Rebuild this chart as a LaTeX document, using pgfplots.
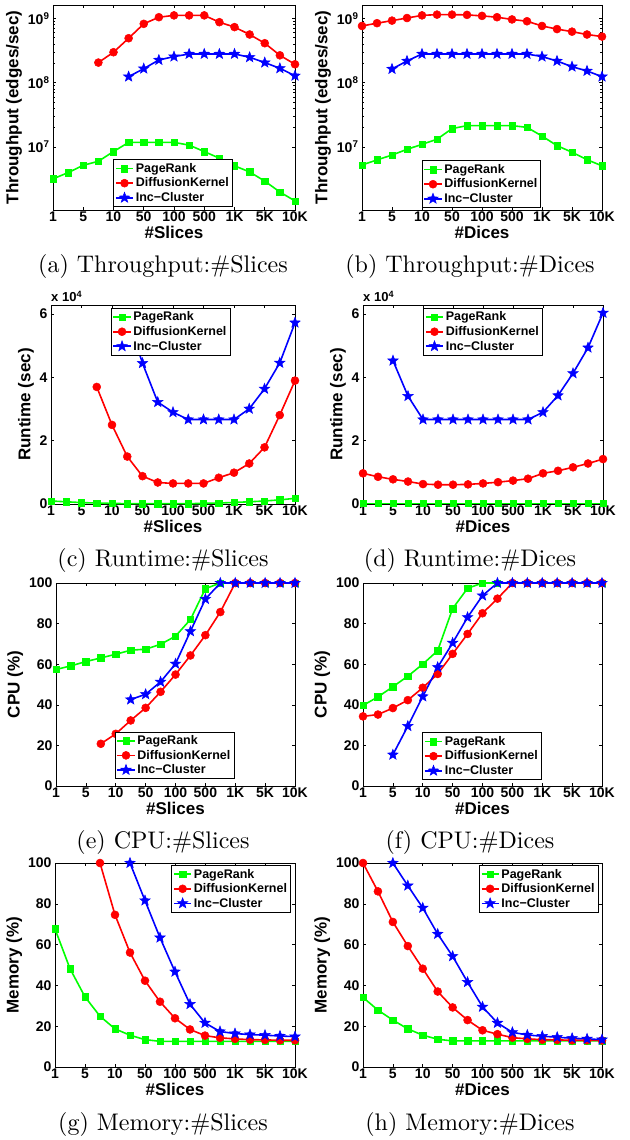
\documentclass[border=0pt]{standalone}
\usepackage{fontspec}
\usepackage{graphicx}
\usepackage{pgfplots}
\pgfplotsset{compat=1.18}
\newfontfamily\plotfont{Liberation Sans}

\definecolor{mgreen}{RGB}{0,255,0}
\definecolor{mred}{RGB}{255,0,0}
\definecolor{mblue}{RGB}{0,0,255}

% filled five-pointed star, like matlab's pentagram
\pgfdeclareplotmark{pent}{%
  \pgfpathmoveto{\pgfpointpolar{90}{\pgfplotmarksize}}%
  \pgfpathlineto{\pgfpointpolar{126}{0.42\pgfplotmarksize}}%
  \pgfpathlineto{\pgfpointpolar{162}{\pgfplotmarksize}}%
  \pgfpathlineto{\pgfpointpolar{198}{0.42\pgfplotmarksize}}%
  \pgfpathlineto{\pgfpointpolar{234}{\pgfplotmarksize}}%
  \pgfpathlineto{\pgfpointpolar{270}{0.42\pgfplotmarksize}}%
  \pgfpathlineto{\pgfpointpolar{306}{\pgfplotmarksize}}%
  \pgfpathlineto{\pgfpointpolar{342}{0.42\pgfplotmarksize}}%
  \pgfpathlineto{\pgfpointpolar{18}{\pgfplotmarksize}}%
  \pgfpathlineto{\pgfpointpolar{54}{0.42\pgfplotmarksize}}%
  \pgfpathclose
  \pgfusepathqfillstroke
}

\pgfplotsset{
  panel/.style={
    scale only axis,
    xmin=0, xmax=16,
    xtick={0,2,...,16},
    xticklabels={1,5,10,50,100,500,1K,5K,10K},
    tick align=inside,
    major tick length=3pt,
    minor tick length=1.8pt,
    axis line style={line width=0.8pt},
    every tick/.style={black, line width=0.6pt},
    ticklabel style={font=\plotfont\bfseries\fontsize{14}{16}\selectfont},
    xticklabel style={inner sep=2pt},
    /pgf/number format/assume math mode=true,
    label style={font=\plotfont\bfseries\fontsize{17}{19}\selectfont},
    xlabel style={yshift=1.5pt},
    ylabel style={yshift=-1pt},
    scaled y ticks=false,
    legend style={font=\plotfont\bfseries\fontsize{12.5}{14}\selectfont,
                  draw=black, line width=0.8pt, inner sep=1.5pt,
                  row sep=0pt},
    legend cell align=left,
    clip=false,
  },
  pr/.style={mgreen, line width=1.6pt, mark=square*, mark size=3.2pt,
             mark options={fill=mgreen, line width=0.5pt}},
  dk/.style={mred, line width=1.6pt, mark=*, mark size=4pt,
             mark options={fill=mred, line width=0.5pt}},
  ic/.style={mblue, line width=1.6pt, mark=pent, mark size=5.5pt,
             mark options={fill=mblue, line width=0.5pt}},
}

\newcommand{\capt}[1]{\scalebox{2.4}{\fontsize{10}{12}\selectfont #1}}
\newcommand{\tenfour}{\node[anchor=south west, inner sep=0pt, yshift=3pt,
  font=\plotfont\bfseries\fontsize{13}{15}\selectfont]
  at (rel axis cs:0,1) {x 10\textsuperscript{4}};}

\pgfplotstableread{
x   pr      dk      ic
0   3.2e6   nan     nan
1   4.0e6   nan     nan
2   5.2e6   nan     nan
3   6.0e6   2.05e8  nan
4   8.5e6   2.97e8  nan
5   1.18e7  4.9e8   1.24e8
6   1.18e7  8.2e8   1.65e8
7   1.18e7  1.04e9  2.25e8
8   1.18e7  1.11e9  2.54e8
9   1.07e7  1.11e9  2.79e8
10  8.5e6   1.11e9  2.79e8
11  6.7e6   8.7e8   2.79e8
12  5.1e6   7.3e8   2.79e8
13  4.1e6   5.6e8   2.48e8
14  2.95e6  4.1e8   2.05e8
15  2.0e6   2.66e8  1.67e8
16  1.45e6  1.93e8  1.28e8
}\thrslices

\pgfplotstableread{
x   pr      dk      ic
0   5.25e6  7.6e8   nan
1   6.3e6   8.4e8   nan
2   7.5e6   9.2e8   1.63e8
3   9.2e6   1.01e9  2.17e8
4   1.1e7   1.11e9  2.79e8
5   1.32e7  1.14e9  2.79e8
6   1.93e7  1.14e9  2.79e8
7   2.15e7  1.13e9  2.79e8
8   2.15e7  1.09e9  2.79e8
9   2.15e7  1.04e9  2.79e8
10  2.15e7  9.6e8   2.79e8
11  2.02e7  9.0e8   2.79e8
12  1.48e7  7.6e8   2.54e8
13  1.05e7  6.8e8   2.17e8
14  8.3e6   6.2e8   1.77e8
15  6.35e6  5.6e8   1.52e8
16  5.1e6   5.2e8   1.24e8
}\thrdices

\pgfplotstableread{
x   pr     dk     ic
0   950    nan    nan
1   700    nan    nan
2   450    nan    nan
3   300    37000  nan
4   200    25000  nan
5   100    15000  59000
6   100    8800   44500
7   100    6800   32200
8   100    6500   29000
9   100    6500   26700
10  200    6500   26700
11  300    8300   26700
12  500    9900   26700
13  700    12800  30100
14  950    17900  36400
15  1300   28100  44600
16  1800   39000  57300
}\runslices

\pgfplotstableread{
x   pr     dk     ic
0   150    9700   nan
1   150    8600   nan
2   150    7800   45300
3   150    7100   34100
4   150    6300   26700
5   150    6100   26700
6   150    6100   26700
7   150    6200   26700
8   150    6500   26700
9   150    6900   26700
10  150    7400   26700
11  150    8000   26700
12  150    9700   29000
13  150    10500  34300
14  150    11600  41300
15  150    12800  49400
16  150    14200  60400
}\rundices

\pgfplotstableread{
x   pr     dk     ic
0   57.4   nan    nan
1   59.2   nan    nan
2   61.3   nan    nan
3   63.1   20.8   nan
4   64.9   25.7   nan
5   66.9   32.3   42.6
6   67.4   38.5   45.2
7   69.8   46.4   51.3
8   73.8   54.9   60.2
9   82.0   64.3   76.2
10  97.2   74.3   92.1
11  100    85.7   100
12  100    100    100
13  100    100    100
14  100    100    100
15  100    100    100
16  100    100    100
}\cpuslices

\pgfplotstableread{
x   pr     dk     ic
0   39.7   34.3   nan
1   43.9   35.2   nan
2   48.9   38.4   15.4
3   54.1   42.3   29.5
4   60.0   48.4   44.1
5   66.7   55.2   58.5
6   87.4   65.1   70.5
7   97.4   74.9   83.1
8   100    85.1   93.8
9   100    92.3   100
10  100    100    100
11  100    100    100
12  100    100    100
13  100    100    100
14  100    100    100
15  100    100    100
16  100    100    100
}\cpudices

\pgfplotstableread{
x   pr     dk     ic
0   67.7   nan    nan
1   48.2   nan    nan
2   34.4   nan    nan
3   24.9   100    nan
4   18.7   74.6   nan
5   15.6   56.1   100
6   13.4   42.3   81.6
7   12.6   32.0   63.4
8   12.6   23.9   46.7
9   12.6   18.4   30.8
10  12.6   15.4   21.6
11  12.6   14.3   17.4
12  12.6   13.8   16.4
13  12.6   13.4   15.9
14  12.6   13.3   15.6
15  12.6   13.1   15.2
16  12.6   13.1   14.9
}\memslices

\pgfplotstableread{
x   pr     dk     ic
0   34.1   100    nan
1   27.9   86.1   nan
2   23.0   71.1   100
3   18.7   59.3   88.9
4   15.6   48.2   78.0
5   13.6   37.0   65.2
6   12.8   29.2   54.3
7   12.8   23.0   41.6
8   12.8   18.0   29.5
9   12.8   16.1   21.6
10  12.8   14.4   17.0
11  12.8   13.8   15.7
12  12.8   13.4   15.1
13  12.8   13.3   14.6
14  12.8   13.1   14.1
15  12.8   13.1   13.8
16  12.8   13.0   13.4
}\memdices

\begin{document}
\begin{tikzpicture}
\useasboundingbox (0pt,0pt) rectangle (629pt,-1140pt);

% ---------- row 1: throughput ----------
\begin{axis}[panel, at={(53pt,-210pt)}, anchor=south west,
    width=242pt, height=205pt,
    ymode=log, ymin=1.05e6, ymax=1.61e9,
    ytick={1e7,1e8,1e9},
    yticklabels={10\textsuperscript{7},10\textsuperscript{8},10\textsuperscript{9}},
    ylabel={Throughput (edges/sec)}, xlabel={\#Slices},
    legend style={at={(0.496,0.015)}, anchor=south}]
  \addplot[pr] table[x=x, y=pr] {\thrslices};
  \addplot[dk] table[x=x, y=dk] {\thrslices};
  \addplot[ic] table[x=x, y=ic] {\thrslices};
  \legend{PageRank, DiffusionKernel, Inc−Cluster}
\end{axis}

\begin{axis}[panel, at={(362pt,-210pt)}, anchor=south west,
    width=240pt, height=205pt,
    ymode=log, ymin=1.05e6, ymax=1.61e9,
    ytick={1e7,1e8,1e9},
    yticklabels={10\textsuperscript{7},10\textsuperscript{8},10\textsuperscript{9}},
    ylabel={Throughput (edges/sec)}, xlabel={\#Dices},
    legend style={at={(0.498,0.01)}, anchor=south}]
  \addplot[pr] table[x=x, y=pr] {\thrdices};
  \addplot[dk] table[x=x, y=dk] {\thrdices};
  \addplot[ic] table[x=x, y=ic] {\thrdices};
  \legend{PageRank, DiffusionKernel, Inc−Cluster}
\end{axis}

% ---------- row 2: runtime ----------
\begin{axis}[panel, at={(51pt,-504pt)}, anchor=south west,
    width=244pt, height=199pt,
    ymin=0, ymax=62900,
    ytick={0,20000,40000,60000}, yticklabels={0,2,4,6},
    ylabel={Runtime (sec)}, xlabel={\#Slices},
    legend style={at={(0.49,0.985)}, anchor=north}]
  \addplot[pr] table[x=x, y=pr] {\runslices};
  \addplot[dk] table[x=x, y=dk] {\runslices};
  \addplot[ic] table[x=x, y=ic] {\runslices};
  \legend{PageRank, DiffusionKernel, Inc−Cluster}
  \tenfour
\end{axis}

\begin{axis}[panel, at={(363pt,-504pt)}, anchor=south west,
    width=240pt, height=199pt,
    ymin=0, ymax=62900,
    ytick={0,20000,40000,60000}, yticklabels={0,2,4,6},
    ylabel={Runtime (sec)}, xlabel={\#Dices},
    legend style={at={(0.5,0.985)}, anchor=north}]
  \addplot[pr] table[x=x, y=pr] {\rundices};
  \addplot[dk] table[x=x, y=dk] {\rundices};
  \addplot[ic] table[x=x, y=ic] {\rundices};
  \legend{PageRank, DiffusionKernel, Inc−Cluster}
  \tenfour
\end{axis}

% ---------- row 3: cpu ----------
\begin{axis}[panel, at={(56pt,-786pt)}, anchor=south west,
    width=239pt, height=203pt,
    ymin=0, ymax=100, ytick={0,20,...,100},
    ylabel={CPU (\%)}, xlabel={\#Slices},
    legend style={at={(0.496,0.034)}, anchor=south}]
  \addplot[pr] table[x=x, y=pr] {\cpuslices};
  \addplot[dk] table[x=x, y=dk] {\cpuslices};
  \addplot[ic] table[x=x, y=ic] {\cpuslices};
  \legend{PageRank, DiffusionKernel, Inc−Cluster}
\end{axis}

\begin{axis}[panel, at={(363pt,-786pt)}, anchor=south west,
    width=239pt, height=203pt,
    ymin=0, ymax=100, ytick={0,20,...,100},
    ylabel={CPU (\%)}, xlabel={\#Dices},
    legend style={at={(0.498,0.03)}, anchor=south}]
  \addplot[pr] table[x=x, y=pr] {\cpudices};
  \addplot[dk] table[x=x, y=dk] {\cpudices};
  \addplot[ic] table[x=x, y=ic] {\cpudices};
  \legend{PageRank, DiffusionKernel, Inc−Cluster}
\end{axis}

% ---------- row 4: memory ----------
\begin{axis}[panel, at={(55pt,-1067pt)}, anchor=south west,
    width=240pt, height=204pt,
    ymin=0, ymax=100, ytick={0,20,...,100},
    ylabel={Memory (\%)}, xlabel={\#Slices},
    legend style={at={(0.983,0.99)}, anchor=north east}]
  \addplot[pr] table[x=x, y=pr] {\memslices};
  \addplot[dk] table[x=x, y=dk] {\memslices};
  \addplot[ic] table[x=x, y=ic] {\memslices};
  \legend{PageRank, DiffusionKernel, Inc−Cluster}
\end{axis}

\begin{axis}[panel, at={(363pt,-1067pt)}, anchor=south west,
    width=239pt, height=204pt,
    ymin=0, ymax=100, ytick={0,20,...,100},
    ylabel={Memory (\%)}, xlabel={\#Dices},
    legend style={at={(0.985,0.99)}, anchor=north east}]
  \addplot[pr] table[x=x, y=pr] {\memdices};
  \addplot[dk] table[x=x, y=dk] {\memdices};
  \addplot[ic] table[x=x, y=ic] {\memdices};
  \legend{PageRank, DiffusionKernel, Inc−Cluster}
\end{axis}

% ---------- captions ----------
\node[anchor=base] at (163pt,-272pt)  {\capt{(a) Throughput:\#Slices}};
\node[anchor=base] at (470pt,-272pt)  {\capt{(b) Throughput:\#Dices}};
\node[anchor=base] at (163pt,-566pt)  {\capt{(c) Runtime:\#Slices}};
\node[anchor=base] at (470pt,-566pt)  {\capt{(d) Runtime:\#Dices}};
\node[anchor=base] at (163pt,-848pt)  {\capt{(e) CPU:\#Slices}};
\node[anchor=base] at (470pt,-848pt)  {\capt{(f) CPU:\#Dices}};
\node[anchor=base] at (163pt,-1130pt) {\capt{(g) Memory:\#Slices}};
\node[anchor=base] at (470pt,-1130pt) {\capt{(h) Memory:\#Dices}};
\end{tikzpicture}
\end{document}
